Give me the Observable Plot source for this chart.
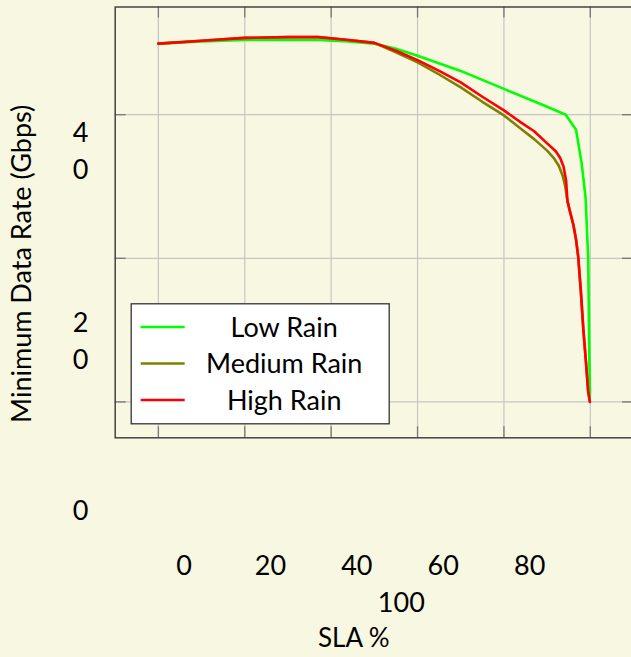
<!DOCTYPE html>
<html><head><meta charset="utf-8">
<script src="https://cdn.jsdelivr.net/npm/d3@7"></script>
<script src="https://cdn.jsdelivr.net/npm/@observablehq/plot@0.6"></script>
<style>
html,body{margin:0;padding:0;background:#f8f7e1;overflow:hidden;}
#chart svg{max-width:none;display:block;}
</style></head><body><div id="chart"></div>
<script>
const seriesNames = ["Low Rain", "Medium Rain", "High Rain"];
const seriesColors = ["#00ff00", "#808000", "#ff0000"];

const lowRainSLA  = [0, 10, 20, 30, 37, 44, 50, 55, 60, 70, 80, 90, 94.3, 96.7, 98.0, 98.9, 99.5, 99.9];
const lowRainRate = [49.9, 50.2, 50.4, 50.4, 50.4, 50.2, 49.9, 49.2, 48.2, 46.1, 43.6, 41.1, 40.0, 37.9, 33.2, 28.5, 20.2, 0.7];

const mediumRainSLA  = [0, 10, 20, 30, 37, 44, 50, 55, 60, 65, 70, 75, 80, 84, 87, 90, 91.5, 92.7, 93.6, 94.2, 94.7, 95.3, 96.1, 96.7, 97.2, 97.8, 98.4, 99.0, 99.5, 99.9];
const mediumRainRate = [49.9, 50.3, 50.7, 50.8, 50.8, 50.4, 50.0, 48.7, 47.3, 45.6, 43.8, 41.8, 39.9, 38.0, 36.6, 35.0, 34.0, 32.9, 31.5, 30.0, 28.0, 26.5, 24.6, 22.6, 20.2, 15.5, 10.0, 5.5, 1.5, 0.0];

const highRainSLA  = [0, 10, 20, 30, 37, 44, 50, 55, 60, 65, 70, 75, 80, 84, 87, 90, 92, 93, 93.8, 94.4, 94.7, 95.3, 96.1, 96.7, 97.2, 97.8, 98.4, 99.0, 99.5, 99.9];
const highRainRate = [49.9, 50.3, 50.7, 50.8, 50.8, 50.4, 50.0, 48.9, 47.6, 46.1, 44.5, 42.5, 40.6, 38.9, 37.7, 36.0, 34.9, 34.0, 32.8, 30.8, 28.0, 26.5, 24.6, 22.6, 20.2, 15.5, 10.0, 5.5, 1.5, 0.0];

const xTicks = [0, 20, 40, 60, 80, 100];
const yTicks = [0, 20, 40];
const xLabel = "SLA %";
const yLabel = "Minimum Data Rate (Gbps)";

// build table
const rows = [];
[[lowRainSLA, lowRainRate], [mediumRainSLA, mediumRainRate], [highRainSLA, highRainRate]]
  .forEach(([s, r], i) => s.forEach((v, j) => rows.push({series: seriesNames[i], sla: v, rate: r[j]})));

// layout
const W = 645, H = 657, ML = 114.7, MR = 12, MT = 6.5, MB = 219.7;
const innerW = W - ML - MR, innerH = H - MT - MB;
const FONT = "Lato, 'Open Sans', sans-serif";
const FS = 27;
const TICK = 11;
const yLabelShift = {40: 34, 20: 80, 0: 106};

function legend(index, scales, values, dim) {
  const g = d3.create("svg:g");
  const x0 = dim.marginLeft + 16.5;
  const yb = dim.height - dim.marginBottom - 13.5;
  const w = 258, h = 120, rowH = 36.5;
  const y0 = yb - h;
  g.append("rect").attr("x", x0).attr("y", y0).attr("width", w).attr("height", h)
    .attr("fill", "white").attr("stroke", "#333").attr("stroke-width", 1.3);
  seriesNames.forEach((name, i) => {
    const cy = y0 + 23.3 + i * rowH;
    g.append("line").attr("x1", x0 + 9.5).attr("x2", x0 + 53.5).attr("y1", cy).attr("y2", cy)
      .attr("stroke", scales.color(name)).attr("stroke-width", 2.5);
    g.append("text").attr("x", x0 + 153).attr("y", cy).attr("dy", "0.36em")
      .attr("text-anchor", "middle").attr("fill", "#000")
      .attr("font-family", FONT).attr("font-size", FS).text(name);
  });
  return g.node();
}

const chart = Plot.plot({
  width: W, height: H,
  marginLeft: ML, marginRight: MR, marginTop: MT, marginBottom: MB,
  style: {fontFamily: FONT, fontSize: FS + "px", background: "#f8f7e1", color: "#000", overflow: "visible"},
  x: {domain: [-10, 110]},
  y: {domain: [-5, 55]},
  color: {domain: seriesNames, range: seriesColors},
  marks: [
    Plot.gridX(xTicks, {stroke: "#c6c6c6", strokeOpacity: 1, strokeWidth: 1.2}),
    Plot.gridY(yTicks, {stroke: "#c6c6c6", strokeOpacity: 1, strokeWidth: 1.2}),
    Plot.ruleX(xTicks, {stroke: "#777", strokeWidth: 1.3, insetTop: innerH - TICK}),
    Plot.ruleX(xTicks, {stroke: "#777", strokeWidth: 1.3, insetBottom: innerH - TICK}),
    Plot.ruleY(yTicks, {stroke: "#777", strokeWidth: 1.3, insetRight: innerW - TICK}),
    Plot.ruleY(yTicks, {stroke: "#777", strokeWidth: 1.3, insetLeft: innerW - TICK}),
    Plot.frame({stroke: "#444", strokeWidth: 1.5}),
    Plot.line(rows, {x: "sla", y: "rate", z: "series", stroke: "series", strokeWidth: 2.6, strokeLinejoin: "round"}),
    legend,
    ...yTicks.map(t => Plot.axisY([t], {
      anchor: "left", tickSize: 0, tickPadding: 0, textAnchor: "middle",
      dx: -34.7, dy: yLabelShift[t], lineHeight: 1.37, fontSize: FS, label: null,
      tickFormat: d => String(d).split("").join("\n")
    })),
    Plot.axisX(xTicks.filter(t => t < 100), {anchor: "bottom", tickSize: 0, tickPadding: 0, dx: 25.7, dy: 117.7, fontSize: FS, label: null}),
    Plot.axisX(xTicks.filter(t => t >= 100), {anchor: "bottom", tickSize: 0, tickPadding: 0, dx: -189, dy: 154.7, fontSize: FS, label: null}),
    Plot.text([xLabel], {text: d => d, frameAnchor: "bottom", lineAnchor: "top", dx: -20.5, dy: 191, fontSize: 26}),
    Plot.text([yLabel], {text: d => d, frameAnchor: "left", rotate: -90, textAnchor: "middle", dx: -92.7, dy: 41.4, fontSize: FS})
  ]
});
document.getElementById("chart").appendChild(chart);
</script></body></html>
